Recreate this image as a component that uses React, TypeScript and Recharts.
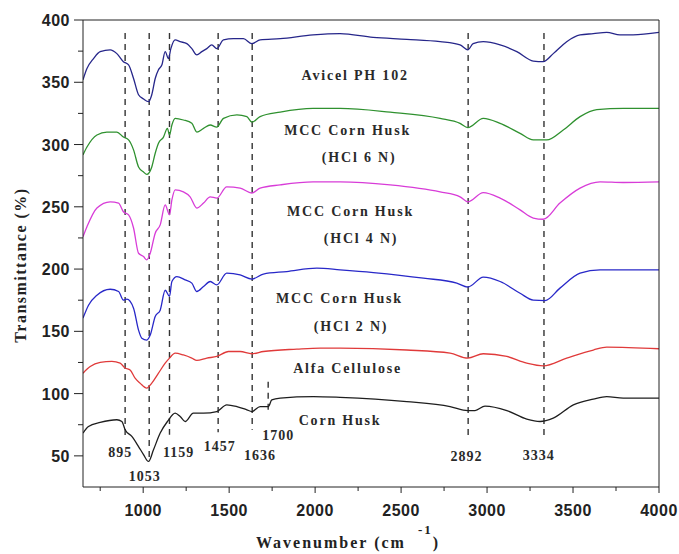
import React from 'react';
import { LineChart, Line, XAxis, YAxis, ReferenceLine, ReferenceDot } from 'recharts';

// wavenumber (cm-1), transmittance (%, offset-stacked)
const avicelPH102: [number, number][] = [
  [650, 352], [673, 361], [711, 369], [750, 374.6], [808, 376], [847, 373], [885, 366.5], [915, 364],
  [944, 353], [973, 340], [1002, 336.6], [1031, 334.4], [1050, 340], [1070, 353], [1089, 360], [1109, 364],
  [1128, 374.6], [1147, 369], [1161, 377], [1186, 384], [1215, 382.6], [1254, 381], [1283, 377], [1312, 372],
  [1341, 374.6], [1370, 377], [1399, 380], [1428, 377], [1467, 384], [1525, 385], [1583, 385], [1632, 381],
  [1680, 384], [1797, 385], [1988, 388], [2145, 389], [2337, 386], [2533, 384.5], [2727, 382.6], [2843, 380],
  [2888, 376], [2919, 381], [2978, 382.6], [3076, 380], [3173, 374.6], [3269, 367], [3327, 366.5], [3385, 373],
  [3463, 382.6], [3541, 388], [3618, 389], [3696, 390], [3773, 388], [3849, 388], [4000, 390],
];

const mccHcl6N: [number, number][] = [
  [650, 291.7], [673, 298], [731, 307.7], [789, 310], [847, 310], [885, 306], [915, 303.7], [944, 295.7],
  [973, 282], [1002, 278], [1021, 276], [1050, 282], [1070, 293], [1089, 301], [1118, 306], [1141, 313],
  [1153, 307.7], [1167, 315.7], [1186, 321], [1234, 319.7], [1283, 317], [1312, 310], [1351, 313], [1390, 315.7],
  [1428, 314], [1467, 321], [1545, 323.8], [1603, 322.4], [1632, 318], [1680, 322.4], [1797, 326], [1988, 329],
  [2145, 329], [2436, 326], [2727, 321], [2843, 317], [2888, 313.6], [2978, 321], [3076, 317], [3192, 309],
  [3269, 303.7], [3347, 303.7], [3443, 311.7], [3541, 322.4], [3638, 328], [3792, 329], [4000, 329],
];

const mccHcl4N: [number, number][] = [
  [650, 226], [673, 234], [731, 249], [808, 254], [857, 253], [885, 246], [915, 243.5], [944, 233],
  [973, 212.7], [1002, 210], [1021, 207.4], [1041, 212.7], [1070, 228.8], [1099, 235.5], [1128, 251.5],
  [1153, 243.5], [1167, 255.5], [1186, 263.6], [1234, 262], [1273, 258], [1312, 249], [1351, 253], [1390, 258],
  [1428, 257], [1486, 266], [1564, 265], [1632, 261], [1680, 265], [1797, 267.6], [1988, 270], [2145, 270],
  [2436, 267.6], [2727, 262], [2843, 258], [2888, 254], [2978, 261.4], [3076, 257], [3192, 247.5], [3269, 241],
  [3327, 240], [3424, 253], [3541, 265], [3657, 270], [3792, 269.5], [4000, 270],
];

const mccHcl2N: [number, number][] = [
  [650, 160.6], [682, 171], [731, 179], [808, 183.8], [857, 182], [885, 175], [905, 175.8], [944, 168.6],
  [973, 151], [992, 144.5], [1021, 143], [1041, 147], [1070, 162], [1099, 167], [1128, 183], [1153, 178],
  [1167, 190], [1196, 194], [1244, 191.3], [1283, 188.7], [1312, 182], [1351, 186], [1390, 190], [1428, 187.3],
  [1486, 196.7], [1564, 195.3], [1632, 192], [1699, 196], [1835, 198], [2010, 200.7], [2145, 199.4],
  [2339, 197.2], [2630, 192.7], [2824, 188.7], [2888, 185.5], [2978, 193.5], [3076, 190], [3192, 180.6],
  [3269, 175], [3337, 174.7], [3424, 184.7], [3541, 196.7], [3657, 199.4], [4000, 199.4],
];

const alfaCellulose: [number, number][] = [
  [650, 116.4], [692, 121.7], [750, 125], [818, 125.8], [866, 124.4], [895, 120.5], [924, 119], [953, 112.4],
  [982, 108.4], [1021, 104.4], [1050, 108.4], [1089, 116.4], [1128, 124.4], [1153, 128.5], [1186, 132.5],
  [1234, 131], [1283, 128.5], [1312, 126.6], [1370, 128.5], [1428, 129.8], [1496, 133.8], [1564, 133.8],
  [1632, 132], [1699, 133.8], [1894, 135.7], [2029, 136.5], [2145, 136.5], [2533, 135], [2785, 132.5],
  [2888, 128.5], [2978, 132], [3115, 129.8], [3231, 124.5], [3327, 122.3], [3463, 128.5], [3618, 135],
  [3696, 137.3], [4000, 136],
];

const cornHusk: [number, number][] = [
  [650, 68.3], [682, 73.6], [750, 76.8], [847, 79], [876, 77.6], [895, 71], [934, 65.6], [973, 57.5],
  [1002, 51], [1031, 45.5], [1060, 54.9], [1099, 68.3], [1141, 77.6], [1186, 84.3], [1215, 81.6], [1244, 77.6],
  [1292, 84.3], [1351, 84.3], [1428, 85.6], [1486, 91], [1545, 89.6], [1603, 87], [1632, 85.6], [1680, 89.6],
  [1728, 89.6], [1748, 95], [1797, 96.4], [1990, 97.6], [2145, 97], [2533, 93.6], [2785, 89.6], [2888, 86.4],
  [2930, 86.4], [2988, 90], [3115, 86.4], [3231, 79.5], [3308, 77.6], [3385, 80.3], [3502, 91], [3618, 95.6],
  [3696, 97.6], [3792, 96.4], [4000, 96.4],
];

const seriesNames = ['Avicel PH 102', 'MCC Corn Husk (HCl 6 N)', 'MCC Corn Husk (HCl 4 N)', 'MCC Corn Husk (HCl 2 N)', 'Alfa Cellulose', 'Corn Husk'];
const seriesData = [avicelPH102, mccHcl6N, mccHcl4N, mccHcl2N, alfaCellulose, cornHusk];
const seriesColors = ['#26268a', '#2f912f', '#d83cd8', '#2828c8', '#e03a3a', '#1e1e1e'];

// curve labels: [text, wavenumber, transmittance]
const curveLabels: [string, number, number][] = [
  ['Avicel PH 102', 2233, 355.9],
  ['MCC Corn Husk', 2189, 311.7],
  ['(HCl 6 N)', 2256, 290],
  ['MCC Corn Husk', 2206, 246.7],
  ['(HCl 4 N)', 2267, 225],
  ['MCC Corn Husk', 2142, 176.9],
  ['(HCl 2 N)', 2209, 154.4],
  ['Alfa Cellulose', 2189, 120.7],
  ['Corn Husk', 2145, 79],
];

// band markers: line wavenumber, top, bottom
const bandLines: [number, number, number][] = [
  [895, 389.6, 65], [1035, 389.6, 45], [1153, 389.6, 67], [1436, 389.6, 69], [1634, 389.6, 71],
  [1727, 109.5, 85], [2890, 389.6, 65], [3331, 389.6, 65],
];

// band labels: text, wavenumber, transmittance
const bandLabels: [string, number, number][] = [
  ['895', 866, 53.3], ['1053', 1009, 34], ['1159', 1206, 53.3], ['1457', 1445, 58],
  ['1636', 1680, 51], ['1700', 1785, 67], ['2892', 2881, 50], ['3334', 3300, 51],
];

const xTicks = [750, 1000, 1250, 1500, 1750, 2000, 2250, 2500, 2750, 3000, 3250, 3500, 3750, 4000];
const yTicks = [50, 75, 100, 125, 150, 175, 200, 225, 250, 275, 300, 325, 350, 375, 400];

const toPoints = (arr: [number, number][]) => arr.map(([w, t]) => ({ w, t }));

const SERIF = '"Liberation Serif", "Times New Roman", serif';
const SANS = '"Liberation Sans", Arial, sans-serif';

const XTick = (props: any) => {
  const { x, y, payload } = props;
  const major = payload.value % 500 === 0;
  return (
    <g>
      <line x1={x} y1={y} x2={x} y2={y + (major ? 6 : 4)} stroke="#222" strokeWidth={1} />
      {major && (
        <text x={x} y={y + 29} textAnchor="middle" fontFamily={SANS} fontWeight="bold" fontSize={16} fill="#222" letterSpacing={0.5}>
          {payload.value}
        </text>
      )}
    </g>
  );
};

const YTick = (props: any) => {
  const { x, y, payload } = props;
  const major = payload.value % 50 === 0;
  return (
    <g>
      <line x1={x} y1={y} x2={x - (major ? 9 : 5)} y2={y} stroke="#222" strokeWidth={1} />
      {major && (
        <text x={x - 13} y={y + 6} textAnchor="end" fontFamily={SANS} fontWeight="bold" fontSize={16} fill="#222" letterSpacing={0.5}>
          {payload.value}
        </text>
      )}
    </g>
  );
};

const TextMark = (text: string, size: number, spacing: number) => (p: any) => (
  <text x={p.cx} y={p.cy + 5} textAnchor="middle" fontFamily={SERIF} fontWeight="bold" fontSize={size} fill="#2a2a2a" letterSpacing={spacing}>
    {text}
  </text>
);

export default function App() {
  return (
    <div style={{ position: 'absolute', left: 0, top: 0, background: '#fff' }}>
      <LineChart width={679} height={554} margin={{ top: 0, right: 0, bottom: 0, left: 0 }}>
        <XAxis
          xAxisId={0}
          dataKey="w"
          type="number"
          domain={[650, 4000]}
          allowDataOverflow
          ticks={xTicks}
          interval={0}
          height={67}
          tickSize={0}
          tickMargin={0}
          tickLine={false}
          tick={<XTick />}
          axisLine={{ stroke: '#222', strokeWidth: 1 }}
          label={{
            content: () => (
              <text x={256} y={548} textAnchor="start" fontFamily={SERIF} fontWeight="bold" fontSize={16} fill="#222" letterSpacing={2}>
                Wavenumber (cm
                <tspan dx={12} dy={-14} fontSize={13}>-1</tspan>
                <tspan dy={14}>)</tspan>
              </text>
            ),
          }}
        />
        <XAxis xAxisId="top" orientation="top" type="number" domain={[650, 4000]} height={20} tick={false} tickLine={false} axisLine={{ stroke: '#222', strokeWidth: 1 }} />
        <YAxis
          yAxisId={0}
          type="number"
          domain={[25, 400]}
          allowDataOverflow
          ticks={yTicks}
          interval={0}
          width={83}
          tickSize={0}
          tickMargin={0}
          tickLine={false}
          tick={<YTick />}
          axisLine={{ stroke: '#222', strokeWidth: 1 }}
          label={{
            content: () => (
              <text x={20} y={265} transform="rotate(-90, 20, 265)" textAnchor="middle" dominantBaseline="central" fontFamily={SERIF} fontWeight="bold" fontSize={16} fill="#222" letterSpacing={1.5}>
                Transmittance (%)
              </text>
            ),
          }}
        />
        <YAxis yAxisId="right" orientation="right" type="number" domain={[25, 400]} width={20} tick={false} tickLine={false} axisLine={{ stroke: '#222', strokeWidth: 1 }} />

        {bandLines.map(([w, top, bottom], i) => (
          <ReferenceLine
            key={'bl' + i}
            segment={[{ x: w, y: top }, { x: w, y: bottom }]}
            stroke="#333"
            strokeWidth={1.4}
            strokeDasharray="6 5"
          />
        ))}

        {seriesData.map((d, i) => (
          <Line
            key={seriesNames[i]}
            name={seriesNames[i]}
            data={toPoints(d)}
            dataKey="t"
            type="monotone"
            stroke={seriesColors[i]}
            strokeWidth={1.3}
            dot={false}
            isAnimationActive={false}
          />
        ))}

        {curveLabels.map(([text, w, t], i) => (
          <ReferenceDot key={'cl' + i} x={w} y={t} r={1} shape={TextMark(text, 14, 1.8)} />
        ))}
        {bandLabels.map(([text, w, t], i) => (
          <ReferenceDot key={'bd' + i} x={w} y={t} r={1} shape={TextMark(text, 14, 1)} />
        ))}
      </LineChart>
    </div>
  );
}
